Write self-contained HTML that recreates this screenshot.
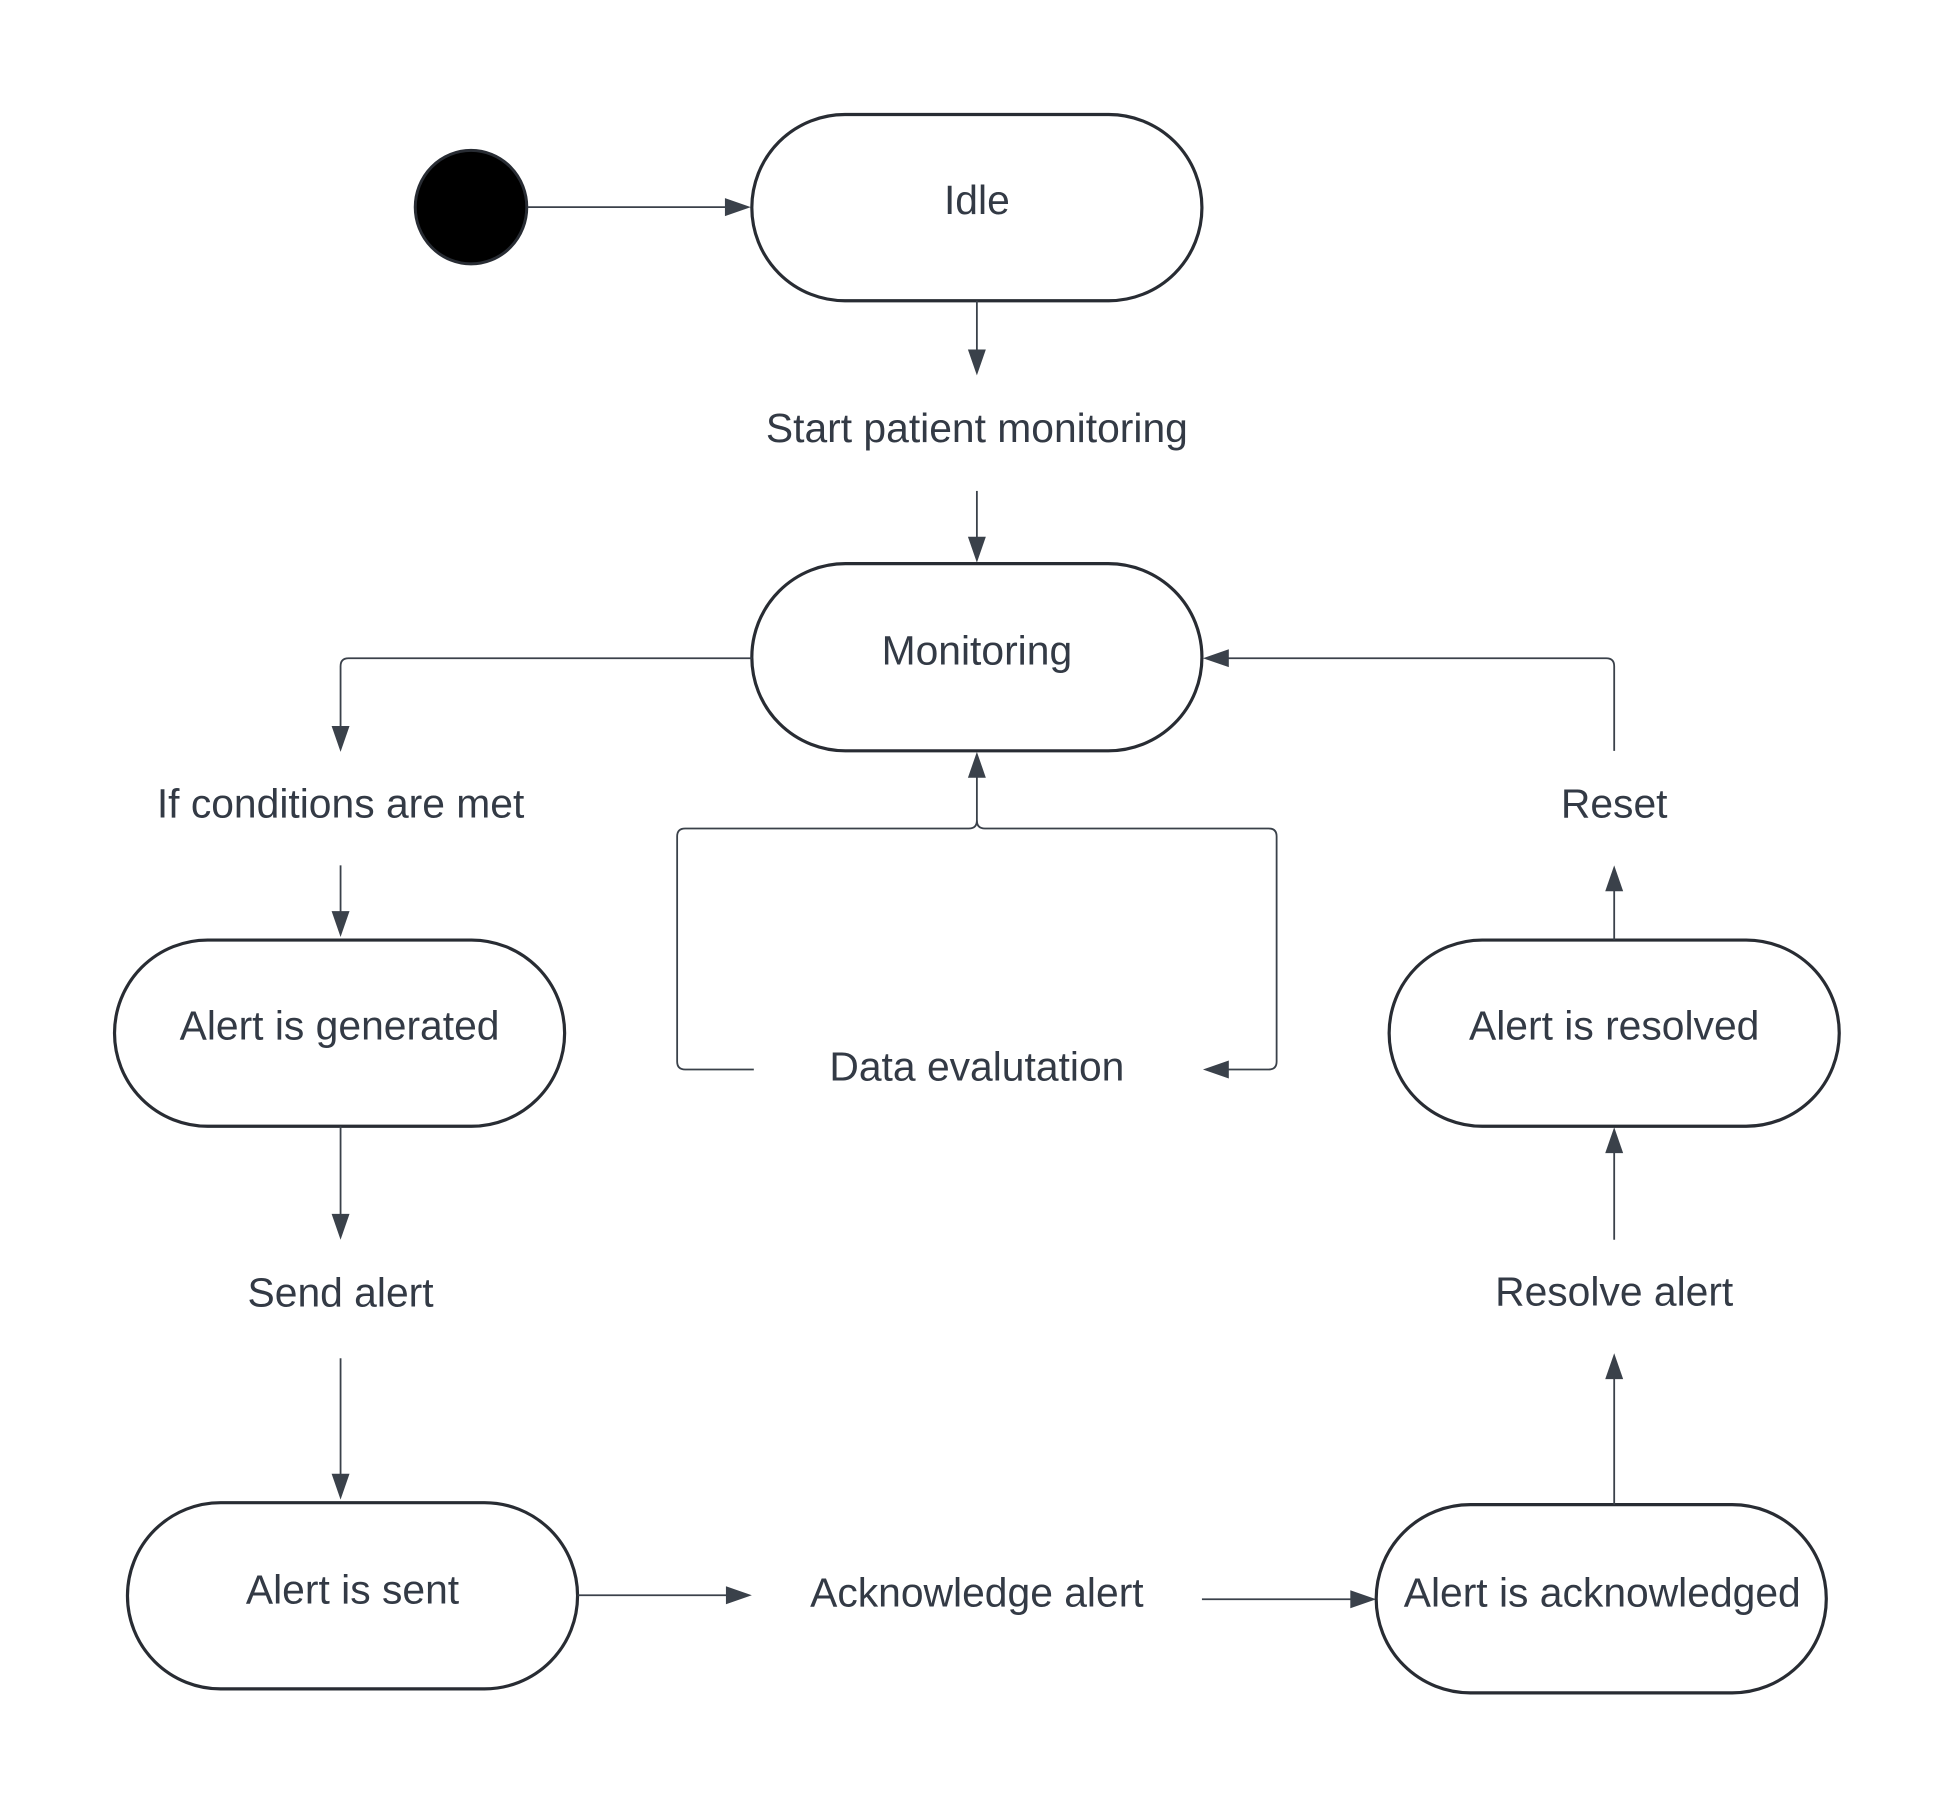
<!DOCTYPE html>
<html><head><meta charset="utf-8"><style>
html,body{margin:0;padding:0;background:#fff;}
svg{display:block;}
text{font-family:"Liberation Sans",sans-serif;font-size:41px;fill:#333a45;text-anchor:middle;dominant-baseline:central;}
.n{fill:#fff;stroke:#282c33;stroke-width:3.2;}
.c{fill:none;stroke:#3a414a;stroke-width:1.8;}
.a{fill:#3a414a;}
</style></head><body>
<svg width="1946" height="1808" viewBox="0 0 1946 1808" xmlns="http://www.w3.org/2000/svg">
<rect width="1946" height="1808" fill="#fff"/>
<g transform="scale(0.9958)">
<!-- initial -->
<ellipse cx="473" cy="208" rx="56" ry="57" fill="#000" stroke="#282c33" stroke-width="3"/>
<line class="c" x1="530" y1="208" x2="730" y2="208"/>
<polygon class="a" points="754,208 728,199 728,217"/>
<!-- Idle -->
<rect class="n" x="755" y="115" width="452" height="187" rx="93.5"/>
<text x="981" y="201">Idle</text>
<line class="c" x1="981" y1="302" x2="981" y2="352"/>
<polygon class="a" points="981,377 972,351 990,351"/>
<text x="981" y="430">Start patient monitoring</text>
<line class="c" x1="981" y1="493" x2="981" y2="540"/>
<polygon class="a" points="981,565 972,539 990,539"/>
<!-- Monitoring -->
<rect class="n" x="755" y="566" width="452" height="188" rx="94"/>
<text x="981" y="653">Monitoring</text>
<!-- left branch -->
<path class="c" d="M755,661 H350 Q342,661 342,669 V730"/>
<polygon class="a" points="342,755 333,729 351,729"/>
<text x="342" y="807">If conditions are met</text>
<line class="c" x1="342" y1="869" x2="342" y2="916"/>
<polygon class="a" points="342,941 333,915 351,915"/>
<rect class="n" x="115" y="944" width="452" height="187" rx="93.5"/>
<text x="341" y="1030">Alert is generated</text>
<line class="c" x1="342" y1="1131" x2="342" y2="1220"/>
<polygon class="a" points="342,1245 333,1219 351,1219"/>
<text x="342" y="1298">Send alert</text>
<line class="c" x1="342" y1="1364" x2="342" y2="1481"/>
<polygon class="a" points="342,1506 333,1480 351,1480"/>
<rect class="n" x="128" y="1509" width="452" height="187" rx="93.5"/>
<text x="354" y="1596">Alert is sent</text>
<line class="c" x1="580" y1="1602" x2="730" y2="1602"/>
<polygon class="a" points="755,1602 729,1593 729,1611"/>
<text x="981" y="1599">Acknowledge alert</text>
<line class="c" x1="1207" y1="1606" x2="1357" y2="1606"/>
<polygon class="a" points="1382,1606 1356,1597 1356,1615"/>
<rect class="n" x="1382" y="1511" width="452" height="189" rx="94.5"/>
<text x="1609" y="1599">Alert is acknowledged</text>
<!-- right column -->
<line class="c" x1="1621" y1="1511" x2="1621" y2="1384"/>
<polygon class="a" points="1621,1359 1612,1385 1630,1385"/>
<text x="1621" y="1297">Resolve alert</text>
<line class="c" x1="1621" y1="1245" x2="1621" y2="1157"/>
<polygon class="a" points="1621,1132 1612,1158 1630,1158"/>
<rect class="n" x="1395" y="944" width="452" height="187" rx="93.5"/>
<text x="1621" y="1030">Alert is resolved</text>
<line class="c" x1="1621" y1="944" x2="1621" y2="894"/>
<polygon class="a" points="1621,869 1612,895 1630,895"/>
<text x="1621" y="807">Reset</text>
<path class="c" d="M1621,754 V669 Q1621,661 1613,661 H1232"/>
<polygon class="a" points="1208,661 1234,652 1234,670"/>
<!-- data evaluation loop -->
<path class="c" d="M757,1074 H688 Q680,1074 680,1066 V840 Q680,832 688,832 H973 Q981,832 981,824 V780"/>
<path class="c" d="M981,824 Q981,832 989,832 H1274 Q1282,832 1282,840 V1066 Q1282,1074 1274,1074 H1232"/>
<polygon class="a" points="981,755 972,781 990,781"/>
<polygon class="a" points="1208,1074 1234,1065 1234,1083"/>
<text x="981" y="1071">Data evalutation</text>
</g>
</svg>
</body></html>
